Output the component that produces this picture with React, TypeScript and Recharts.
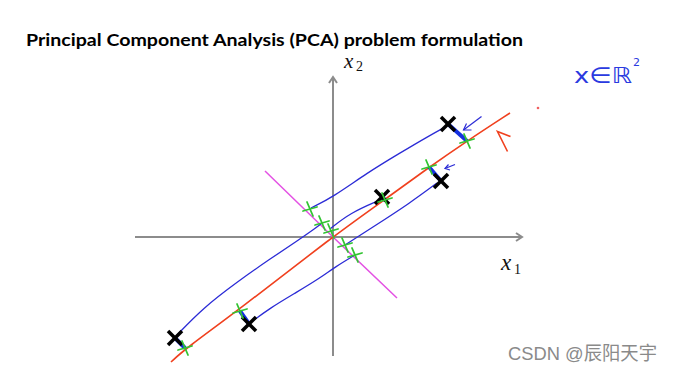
import React from "react";
import { ComposedChart, Line, Scatter, XAxis, YAxis } from "recharts";

type Pt = { x: number; y: number };

// units: 1 = 50px on screen, origin where the axes cross
const xAxisLine: Pt[] = [{ x: -3.96, y: 0 }, { x: 3.78, y: 0 }];
const xAxisHead: Pt[] = [{ x: 3.66, y: 0.08 }, { x: 3.78, y: 0 }, { x: 3.66, y: -0.08 }];
const yAxisLine: Pt[] = [{ x: 0, y: -2.38 }, { x: 0, y: 3.2 }];
const yAxisHead: Pt[] = [{ x: -0.08, y: 3.08 }, { x: 0, y: 3.2 }, { x: 0.08, y: 3.08 }];

const redLine: Pt[] = [
  { x: -3.24, y: -2.5 }, { x: -2.96, y: -2.24 }, { x: -1.86, y: -1.44 }, { x: -0.02, y: 0 },
  { x: 1.04, y: 0.75 }, { x: 1.9, y: 1.38 }, { x: 2.68, y: 1.92 }, { x: 3.54, y: 2.48 },
];
const redHead: Pt[] = [{ x: 3.55, y: 2.01 }, { x: 3.29, y: 2.11 }, { x: 3.49, y: 1.71 }];
const redDot: Pt[] = [{ x: 4.1, y: 2.58 }];

const magentaLine: Pt[] = [{ x: -1.36, y: 1.32 }, { x: 0, y: 0 }, { x: 1.28, y: -1.22 }];

const samples: Pt[] = [
  { x: -3.16, y: -2.02 }, { x: -1.68, y: -1.74 }, { x: 0.98, y: 0.8 },
  { x: 2.3, y: 2.26 }, { x: 2.16, y: 1.12 },
];
const onRed: Pt[] = [
  { x: -2.96, y: -2.22 }, { x: -1.86, y: -1.48 }, { x: 1.04, y: 0.74 },
  { x: 2.68, y: 1.92 }, { x: 1.92, y: 1.4 },
];
const onMagenta: Pt[] = [
  { x: -0.46, y: 0.56 }, { x: -0.22, y: 0.28 }, { x: -0.04, y: 0.12 },
  { x: 0.24, y: -0.16 }, { x: 0.44, y: -0.36 },
];

const curve1: Pt[] = [
  { x: -3.12, y: -1.96 }, { x: -2.6, y: -1.42 }, { x: -1.92, y: -0.9 }, { x: -1.26, y: -0.44 },
  { x: -0.72, y: -0.08 }, { x: -0.32, y: 0.2 }, { x: -0.22, y: 0.28 },
];
const curve2: Pt[] = [
  { x: -0.44, y: 0.58 }, { x: 0, y: 0.8 }, { x: 0.68, y: 1.28 }, { x: 1.34, y: 1.68 },
  { x: 1.88, y: 2.0 }, { x: 2.28, y: 2.22 },
];
const curve3: Pt[] = [{ x: -0.06, y: 0.16 }, { x: 0.34, y: 0.48 }, { x: 0.94, y: 0.74 }];
const curve4: Pt[] = [{ x: 0.24, y: -0.16 }, { x: 0.8, y: 0.2 }, { x: 1.54, y: 0.68 }, { x: 2.08, y: 1.08 }];
const curve5: Pt[] = [
  { x: -1.66, y: -1.72 }, { x: -1.26, y: -1.42 }, { x: -0.72, y: -1.1 }, { x: -0.26, y: -0.82 },
  { x: 0.04, y: -0.6 }, { x: 0.44, y: -0.36 },
];

const arrow1: Pt[] = [{ x: 2.97, y: 2.41 }, { x: 2.61, y: 2.14 }];
const arrow1Head: Pt[] = [{ x: 2.67, y: 2.27 }, { x: 2.61, y: 2.14 }, { x: 2.77, y: 2.14 }];
const arrow2: Pt[] = [{ x: 2.44, y: 1.45 }, { x: 2.24, y: 1.37 }];
const arrow2Head: Pt[] = [{ x: 2.31, y: 1.45 }, { x: 2.24, y: 1.37 }, { x: 2.34, y: 1.34 }];

const GRAY = "#8c8c8c";
const RED = "#f0401e";
const MAGENTA = "#e452e4";
const BLUE = "#2b2bd6";
const THICK_BLUE = "#1530e0";
const GREEN = "#33c433";

const BlackX = (props: any) => {
  const { cx, cy } = props;
  const s = 7;
  return (
    <g stroke="#000" strokeWidth={3.5}>
      <line x1={cx - s} y1={cy - s} x2={cx + s} y2={cy + s} />
      <line x1={cx - s} y1={cy + s} x2={cx + s} y2={cy - s} />
    </g>
  );
};

const GreenCross = (props: any) => {
  const { cx, cy } = props;
  return (
    <g stroke={GREEN} strokeWidth={1.8} strokeLinecap="round">
      <line x1={cx - 7} y1={cy + 2} x2={cx + 7} y2={cy - 2} />
      <line x1={cx - 3} y1={cy - 7} x2={cx + 3} y2={cy + 7} />
    </g>
  );
};

const RedDot = (props: any) => <circle cx={props.cx} cy={props.cy} r={1.3} fill="#f06060" />;

const seg = (data: Pt[], stroke: string, width: number, type: any = "linear") => (
  <Line
    data={data}
    dataKey="y"
    type={type}
    stroke={stroke}
    strokeWidth={width}
    dot={false}
    activeDot={false}
    isAnimationActive={false}
  />
);

const App = () => {
  return (
    <div style={{ position: "absolute", left: 0, top: 0, width: 673, height: 373, background: "#fff" }}>
      <ComposedChart width={673} height={373} margin={{ top: 0, right: 0, bottom: 0, left: 0 }}>
        <XAxis dataKey="x" type="number" domain={[-6.66, 6.8]} hide allowDataOverflow />
        <YAxis dataKey="y" type="number" domain={[-2.72, 4.74]} hide allowDataOverflow />
        {seg(xAxisLine, GRAY, 2)}
        {seg(xAxisHead, GRAY, 2)}
        {seg(yAxisLine, GRAY, 2)}
        {seg(yAxisHead, GRAY, 2)}
        {seg(magentaLine, MAGENTA, 1.5)}
        {seg(redLine, RED, 1.6, "basis")}
        {seg(redHead, RED, 1.6)}
        {seg(curve1, BLUE, 1.3, "basis")}
        {seg(curve2, BLUE, 1.3, "basis")}
        {seg(curve3, BLUE, 1.3, "basis")}
        {seg(curve4, BLUE, 1.3, "basis")}
        {seg(curve5, BLUE, 1.3, "basis")}
        {samples.map((p, i) => (
          <Line
            key={i}
            data={[p, onRed[i]]}
            dataKey="y"
            type="linear"
            stroke={THICK_BLUE}
            strokeWidth={4}
            dot={false}
            activeDot={false}
            isAnimationActive={false}
          />
        ))}
        {seg(arrow1, BLUE, 1.2)}
        {seg(arrow1Head, BLUE, 1.2)}
        {seg(arrow2, BLUE, 1.2)}
        {seg(arrow2Head, BLUE, 1.2)}
        <Scatter data={redDot} shape={RedDot} isAnimationActive={false} />
        <Scatter data={samples} shape={BlackX} isAnimationActive={false} />
        <Scatter data={onRed} shape={GreenCross} isAnimationActive={false} />
        <Scatter data={onMagenta} shape={GreenCross} isAnimationActive={false} />
      </ComposedChart>
      <svg width={673} height={373} style={{ position: "absolute", left: 0, top: 0, pointerEvents: "none" }}>
        <text x={26} y={46} fontFamily="Lato, 'Open Sans', sans-serif" fontWeight={700} fontSize={17}
          textLength={497} lengthAdjust="spacingAndGlyphs" fill="#000">
          Principal Component Analysis (PCA) problem formulation
        </text>
        <g fontFamily="'Liberation Serif', 'DejaVu Serif', serif" fill="#111">
          <text x={344} y={68} fontSize={21} fontStyle="italic">x</text>
          <text x={356} y={71} fontSize={14}>2</text>
          <text x={501} y={270} fontSize={23} fontStyle="italic">x</text>
          <text x={514} y={274} fontSize={14}>1</text>
        </g>
        <g fontFamily="'DejaVu Sans', sans-serif" fill="#2a3ae0">
          <text x={574} y={83} fontSize={22} textLength={58} lengthAdjust="spacingAndGlyphs">x∈ℝ</text>
          <text x={633} y={66} fontSize={11}>2</text>
        </g>
        <text x={508} y={360} fontFamily="'Liberation Sans', 'Noto Sans CJK SC', sans-serif" fontSize={19}
          fill="#8a8a8a" textLength={149} lengthAdjust="spacingAndGlyphs">
          CSDN @辰阳天宇
        </text>
      </svg>
    </div>
  );
};

export default App;
